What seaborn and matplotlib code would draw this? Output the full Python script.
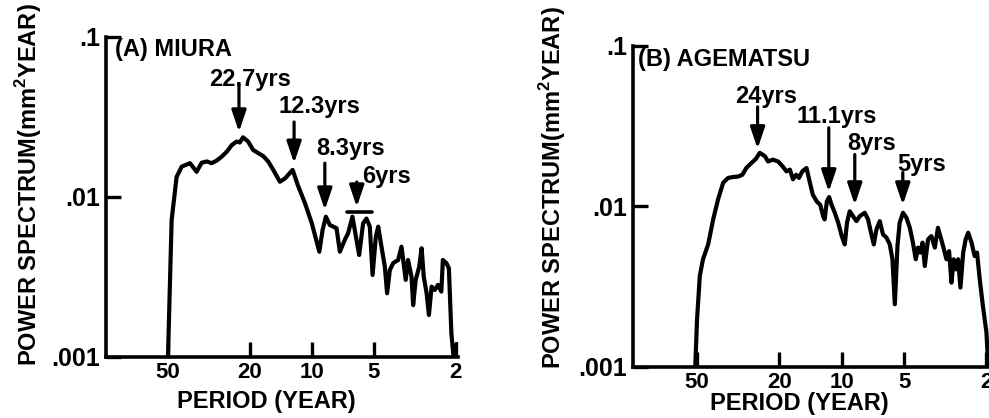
import matplotlib
matplotlib.use('Agg')
import matplotlib.pyplot as plt
from matplotlib.ticker import NullLocator
import seaborn as sns

# data (period in years, power in mm^2*year)
miura_period = [50, 48, 45.4, 42.9, 39.1, 36.3, 34.3, 32.4, 30.7, 29.0,
                27.4, 25.9, 24.5, 23.2, 22.4, 21.6, 20.4, 19.3, 18.2, 17.2,
                16.3, 15.4, 14.3, 13.5, 12.4, 11.7, 10.8, 10.0, 9.2, 8.87,
                8.55, 8.18, 7.88, 7.59, 7.31, 6.92, 6.67, 6.35, 6.07, 5.89,
                5.64, 5.43, 5.23, 5.07, 4.89, 4.76, 4.59, 4.42, 4.31, 4.18,
                4.03, 3.81, 3.67, 3.60, 3.50, 3.41, 3.28, 3.22, 3.13, 3.01,
                2.93, 2.86, 2.77, 2.70, 2.62, 2.53, 2.44, 2.35, 2.31, 2.22,
                2.16, 2.10, 2.05, 1.98]
miura_power = [0.001, 0.00715, 0.0133, 0.0154, 0.0162, 0.0143, 0.0163, 0.0166, 0.0162, 0.0168,
               0.0178, 0.0191, 0.0210, 0.0221, 0.0218, 0.0235, 0.0221, 0.0196, 0.0187, 0.0179,
               0.0166, 0.0147, 0.0124, 0.0130, 0.0147, 0.0118, 0.0091, 0.0068, 0.00453, 0.0062,
               0.0075, 0.00665, 0.0065, 0.00635, 0.00453, 0.00537, 0.0059, 0.0075, 0.00537, 0.00432,
               0.0068, 0.0073, 0.0065, 0.00324, 0.00562, 0.0065, 0.00487, 0.00365, 0.00249, 0.00348,
               0.00384, 0.00402, 0.00487, 0.00402, 0.00302, 0.00402, 0.00316, 0.0021, 0.00302, 0.00365,
               0.00476, 0.00316, 0.00249, 0.00182, 0.00274, 0.00261, 0.00281, 0.00255, 0.00402, 0.00384,
               0.00357, 0.0014, 0.001, 0.0012]

agematsu_period = [51, 50.0, 48.5, 46.8, 44.2, 41.8, 39.6, 37.4, 35.4, 33.5,
                   31.7, 30.2, 28.9, 27.3, 26.0, 24.9, 23.5, 22.7, 21.5, 20.3,
                   19.3, 18.5, 17.8, 17.2, 16.6, 16.1, 15.5, 14.8, 14.3, 13.8,
                   13.2, 12.7, 12.3, 12.1, 11.8, 11.5, 11.2, 10.8, 10.4, 10.0,
                   9.67, 9.43, 9.15, 8.82, 8.49, 8.18, 7.74, 7.46, 7.19, 7.0,
                   6.80, 6.55, 6.32, 6.08, 5.86, 5.69, 5.54, 5.38, 5.25, 5.06,
                   4.87, 4.69, 4.53, 4.39, 4.28, 4.17, 4.07, 3.97, 3.83, 3.69,
                   3.55, 3.43, 3.34, 3.24, 3.12, 3.03, 2.95, 2.88, 2.81, 2.74,
                   2.67, 2.59, 2.52, 2.45, 2.36, 2.28, 2.22, 2.155, 2.08, 2.0,
                   1.96]
agematsu_power = [0.001, 0.00198, 0.00367, 0.00467, 0.00578, 0.00826, 0.0110, 0.0140, 0.0150, 0.0152,
                  0.0153, 0.0157, 0.0173, 0.0186, 0.0197, 0.0215, 0.0205, 0.0190, 0.0195, 0.0190,
                  0.0177, 0.0165, 0.0169, 0.0147, 0.0157, 0.0150, 0.0165, 0.0173, 0.0143, 0.0118,
                  0.0107, 0.0102, 0.00867, 0.00827, 0.0107, 0.0114, 0.0102, 0.0091, 0.00789, 0.00651,
                  0.00578, 0.00789, 0.0093, 0.00867, 0.00807, 0.00867, 0.0091, 0.00827, 0.00667, 0.00578,
                  0.00716, 0.00807, 0.00667, 0.00637, 0.00578, 0.00467, 0.00245, 0.00565, 0.00789, 0.0091,
                  0.00847, 0.00734, 0.00593, 0.00467, 0.00552, 0.00514, 0.00593, 0.00424, 0.00621, 0.00651,
                  0.00552, 0.00734, 0.00651, 0.00565, 0.00467, 0.00525, 0.00334, 0.00467, 0.00404, 0.00467,
                  0.00311, 0.00514, 0.00621, 0.00684, 0.00593, 0.00489, 0.00514, 0.00351, 0.00239, 0.00164,
                  0.001]

# peak marks: label, period of arrow, arrow top / tip power
miura_peaks = ['22.7yrs', '12.3yrs', '8.3yrs', '6yrs']
miura_peak_period = [22.6, 12.2, 8.65, 6.05]
miura_arrow_top = [0.0499, 0.0293, 0.0162, 0.01236]
miura_arrow_tip = [0.0254, 0.0162, 0.00826, 0.00863]
miura_label_pos = [(20.0, 0.0536), (9.19, 0.0367), (6.47, 0.0199), (4.32, 0.0133)]
miura_band = [6.78, 5.13]
miura_band_power = 0.0080

agematsu_peaks = ['24yrs', '11.1yrs', '8yrs', '5yrs']
agematsu_peak_period = [25.5, 11.55, 8.65, 5.07]
agematsu_arrow_top = [0.0416, 0.0308, 0.0210, 0.0162]
agematsu_arrow_tip = [0.0228, 0.0123, 0.0102, 0.0102]
agematsu_label_pos = [(23.3, 0.048), (10.57, 0.0361), (7.16, 0.0245), (4.11, 0.0182)]

period_ticks = [50, 20, 10, 5, 2]
power_ticks = [0.001, 0.01, 0.1]
power_ticklabels = ['.001', '.01', '.1']

sns.set_style('ticks')
plt.rcParams['font.family'] = ['Liberation Sans', 'DejaVu Sans']
plt.rcParams['font.weight'] = 'bold'
plt.rcParams['axes.labelweight'] = 'bold'
plt.rcParams['text.color'] = 'black'
plt.rcParams['axes.labelcolor'] = 'black'
plt.rcParams['xtick.color'] = 'black'
plt.rcParams['ytick.color'] = 'black'
plt.rcParams['mathtext.fontset'] = 'custom'
plt.rcParams['mathtext.bf'] = 'Liberation Sans:bold'
plt.rcParams['mathtext.rm'] = 'Liberation Sans:bold'

fig = plt.figure(figsize=(9.89, 4.18), dpi=100)
axA = fig.add_axes([0.1072, 0.1467, 0.3559, 0.7656])
axB = fig.add_axes([0.640, 0.1227, 0.3597, 0.768])


def style_axes(ax, xmax):
    ax.set_xscale('log')
    ax.set_yscale('log')
    ax.set_xlim(xmax, 1.95)
    ax.set_ylim(0.001, 0.1)
    ax.set_xticks(period_ticks)
    ax.set_xticklabels([str(p) for p in period_ticks])
    ax.set_yticks(power_ticks)
    ax.set_yticklabels(power_ticklabels)
    ax.xaxis.set_minor_locator(NullLocator())
    ax.yaxis.set_minor_locator(NullLocator())
    ax.tick_params(axis='both', which='major', direction='in', length=11,
                   width=2.4, color='black', labelcolor='black')
    ax.tick_params(axis='x', pad=4, labelsize=16)
    ax.tick_params(axis='y', pad=4, labelsize=18)
    for side in ['top', 'right']:
        ax.spines[side].set_visible(False)
    for side in ['left', 'bottom']:
        ax.spines[side].set_linewidth(2.6)
        ax.spines[side].set_color('black')
    ax.set_xlabel('PERIOD (YEAR)', fontsize=17, fontweight='bold')
    ax.set_ylabel(r'POWER SPECTRUM(mm$^{\mathbf{2}}$YEAR)', fontsize=17, fontweight='bold')


def mark_peaks(ax, labels, periods, tops, tips, label_pos):
    for lab, p, top, tip, (tx, ty) in zip(labels, periods, tops, tips, label_pos):
        ax.annotate('', xy=(p, tip), xytext=(p, top),
                    arrowprops=dict(arrowstyle='-|>,head_length=0.65,head_width=0.22',
                                    color='black', lw=2.3, shrinkA=0, shrinkB=0,
                                    mutation_scale=20))
        ax.text(tx, ty, lab, ha='center', va='center', fontsize=17, fontweight='bold')


# (A) Miura
sns.lineplot(x=miura_period, y=miura_power, ax=axA, color='black', lw=3.0,
             sort=False, estimator=None)
style_axes(axA, 100)
mark_peaks(axA, miura_peaks, miura_peak_period, miura_arrow_top, miura_arrow_tip, miura_label_pos)
axA.plot(miura_band, [miura_band_power, miura_band_power], color='black', lw=2.6,
         solid_capstyle='round')
axA.text(0.026, 0.997, '(A) MIURA', transform=axA.transAxes, ha='left', va='top',
         fontsize=17, fontweight='bold')
axA.xaxis.set_label_coords(0.455, -0.104)
axA.yaxis.set_label_coords(-0.176, 0.537)

# (B) Agematsu
sns.lineplot(x=agematsu_period, y=agematsu_power, ax=axB, color='black', lw=3.0,
             sort=False, estimator=None)
style_axes(axB, 102)
mark_peaks(axB, agematsu_peaks, agematsu_peak_period, agematsu_arrow_top, agematsu_arrow_tip,
           agematsu_label_pos)
axB.text(0.014, 0.993, '(B) AGEMATSU', transform=axB.transAxes, ha='left', va='top',
         fontsize=17, fontweight='bold')
axB.xaxis.set_label_coords(0.469, -0.080)
axB.yaxis.set_label_coords(-0.183, 0.557)

fig.savefig('out.png', dpi=100)
